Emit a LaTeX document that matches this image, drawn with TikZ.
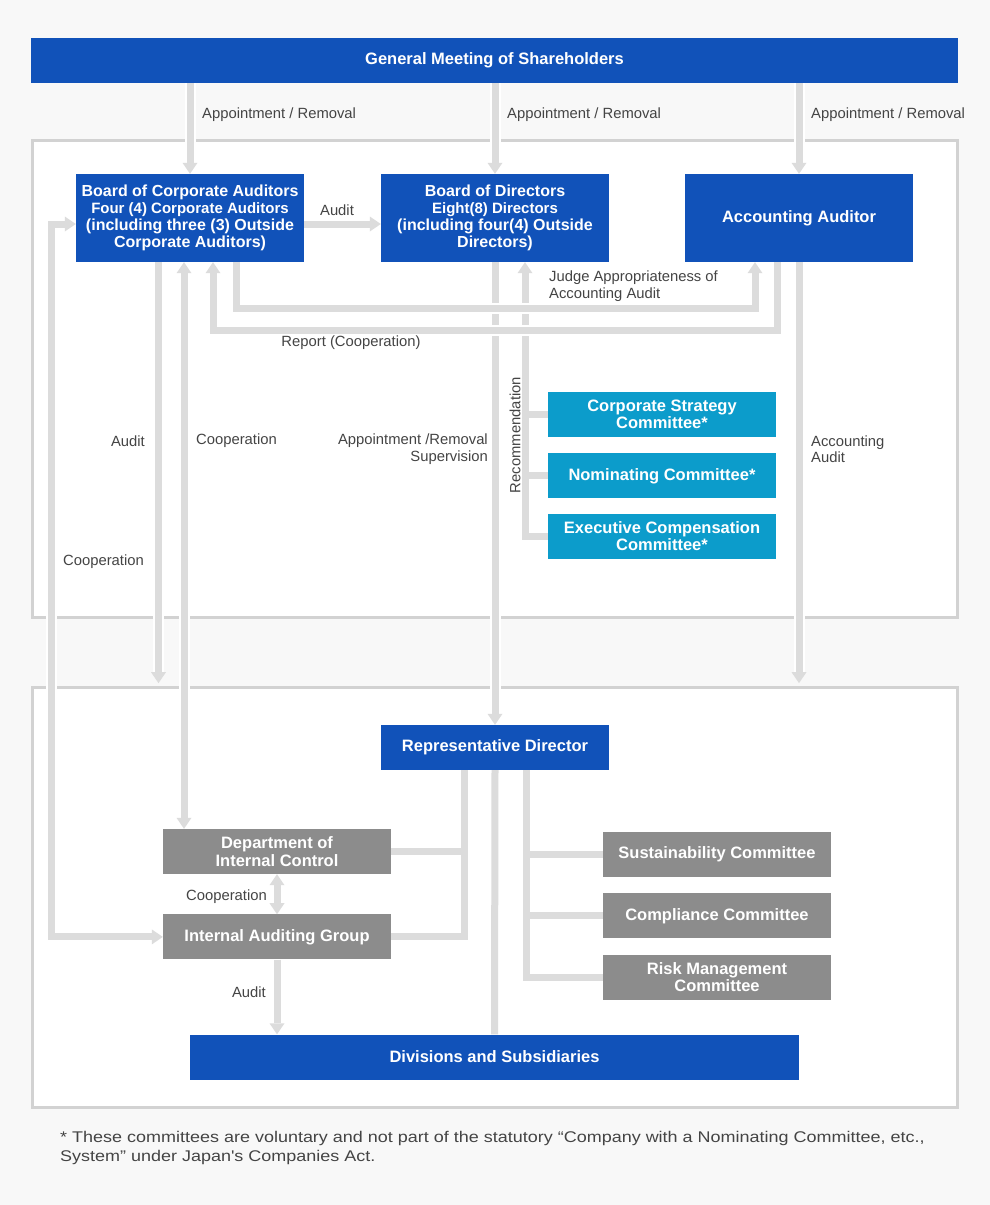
\documentclass[tikz,border=0pt]{standalone}
\usepackage{fontspec}
\setmainfont{Liberation Sans}
\newfontfamily\notefont[FakeStretch=1.16]{Liberation Sans}
\usetikzlibrary{positioning,arrows.meta}
\definecolor{gmblue}{HTML}{1152B9}
\definecolor{cmcyan}{HTML}{0C9CCB}
\definecolor{deptgray}{HTML}{8C8C8C}
\definecolor{linegray}{HTML}{DCDCDC}
\definecolor{framegray}{HTML}{D2D2D2}
\definecolor{pagegray}{HTML}{F8F8F8}
\definecolor{labelgray}{HTML}{444444}
\newcommand{\subline}{\fontsize{15}{17}\selectfont}

\begin{document}
\begin{tikzpicture}[
  x=1pt, y=-1pt,
  >={Triangle[length=11pt,width=15pt,line width=0pt]},
  node distance=16pt,
  box/.style={
    rectangle, fill=gmblue, text=white, align=center,
    inner sep=2pt, minimum width=228pt, minimum height=45pt,
    font=\fontsize{16.5}{17.5}\selectfont\bfseries
  },
  tall/.style={box, minimum height=88pt, font=\fontsize{16}{17}\selectfont\bfseries},
  cmte/.style={box, fill=cmcyan},
  dept/.style={box, fill=deptgray},
  link/.style={draw=linegray, line width=7pt},
  flow/.style={link, preaction={draw=white, line width=11pt}},
  lbl/.style={text=labelgray, inner sep=0pt, font=\fontsize{14.8}{16.5}\selectfont}
]
\useasboundingbox (0,0) rectangle (990,1205);
\fill[pagegray] (0,0) rectangle (990,1205);
\draw[framegray, line width=3pt, fill=white] (32.5,140.5) rectangle (957.5,617);
\draw[framegray, line width=3pt, fill=white] (32.5,687.5) rectangle (957.5,1107.5);

\node (gms) [box, minimum width=927pt] at (494.5,60.5) {General Meeting of Shareholders};

\node (bca) [tall] at (190,218)
  {Board of Corporate Auditors\\\subline Four (4) Corporate Auditors\\
   (including three (3) Outside\\Corporate Auditors)};
\node (bod) [tall] at (495,218)
  {Board of Directors\\\subline Eight(8) Directors\\
   (including four(4) Outside\\Directors)};
\node (aa) [tall, font=\fontsize{16.5}{17.5}\selectfont\bfseries] at (799,218) {Accounting Auditor};

\node (csc) [cmte] at (662,414.5) {Corporate Strategy\\Committee*};
\node (nc) [cmte, below=16pt of csc] {Nominating Committee*};
\node (ecc) [cmte, below=15pt of nc] {Executive Compensation\\Committee*};

\node (rd) [box] at (495,747.5) {Representative Director};
\node (dic) [dept] at (277,851.5) {Department of\\Internal Control};
\node (iag) [dept, below=40pt of dic] {Internal Auditing Group};
\node (sc) [dept] at (717,854.5) {Sustainability Committee};
\node (cc) [dept, below=16pt of sc] {Compliance Committee};
\node (rmc) [dept, below=16pt of cc] {Risk Management\\Committee};
\node (div) [box, minimum width=609pt] at (494.5,1057) {Divisions and Subsidiaries};

% upper part
\foreach \n in {bca,bod,aa}
  \draw[flow,->] (gms.south -| \n.north) -- (\n.north);
\draw[link,->] ([yshift=-6pt]bca.east) -- ([yshift=-6pt]bod.west);
\draw[flow,->] (bod.south) -- (rd.north);
\draw[link,->] (ecc.west) -| ([xshift=30pt]bod.south);
\foreach \n in {csc,nc}
  \draw[link] (\n.west) -- ++(-23,0);
\draw[flow,->] ([xshift=46pt]bca.south) -- ++(0,46) -| ([xshift=-44pt]aa.south);
\draw[flow,->] ([xshift=-22pt]aa.south) -- ++(0,68) -| ([xshift=23pt]bca.south);
\draw[flow,->] ([xshift=-31.5pt]bca.south) -- ++(0,421);
\draw[flow,->] (aa.south) -- ++(0,421);
\draw[flow,<->] ([xshift=-6pt]bca.south) -- ([xshift=-6pt]bca.south |- dic.north);
\draw[flow,<->] ([yshift=-6pt]bca.west) -- ++(-24,0) |- (iag.west);

% lower part
\draw[link,<->] (dic.south) -- (iag.north);
\draw[link,->] (iag.south) -- (iag.south |- div.north);
\draw[link] (rd.south) -- (div.north);
\draw[link] (iag.east) -| ([xshift=-31pt]rd.south);
\draw[link] (dic.east) -- ++(73,0);
\draw[link] (rmc.west) -| ([xshift=31pt]rd.south);
\foreach \n in {sc,cc}
  \draw[link] (\n.west) -- ++(-77,0);

% labels
\node (l-appt1) [lbl, anchor=west] at (202,115) {Appointment / Removal};
\node (l-appt2) [lbl, anchor=west] at (507,115) {Appointment / Removal};
\node (l-appt3) [lbl, anchor=west] at (811,115) {Appointment / Removal};
\node (l-audit1) [lbl] at (337,210) {Audit};
\node (l-judge) [lbl, anchor=west, align=left] at (549,286)
  {Judge Appropriateness of\\Accounting Audit};
\node (l-report) [lbl] at (351,343) {Report (Cooperation)};
\node (l-audit2) [lbl, anchor=east] at (145,441) {Audit};
\node (l-coop1) [lbl, anchor=west] at (196,441) {Cooperation};
\node (l-appt4) [lbl, anchor=east, align=right] at (488,449)
  {Appointment /Removal\\Supervision};
\node (l-rec) [lbl, rotate=90] at (515,435) {Recommendation};
\node (l-acc) [lbl, anchor=west, align=left] at (811,449) {Accounting\\Audit};
\node (l-coop2) [lbl, anchor=east] at (144,562) {Cooperation};
\node (l-coop3) [lbl, anchor=east] at (267,897) {Cooperation};
\node (l-audit3) [lbl, anchor=east] at (266,992) {Audit};
\node (note) [lbl, anchor=west, align=left, font=\notefont\fontsize{15.5}{19}\selectfont] at (60,1148)
  {* These committees are voluntary and not part of the statutory “Company with a Nominating Committee, etc.,\\
   System” under Japan's Companies Act.};
\end{tikzpicture}
\end{document}
